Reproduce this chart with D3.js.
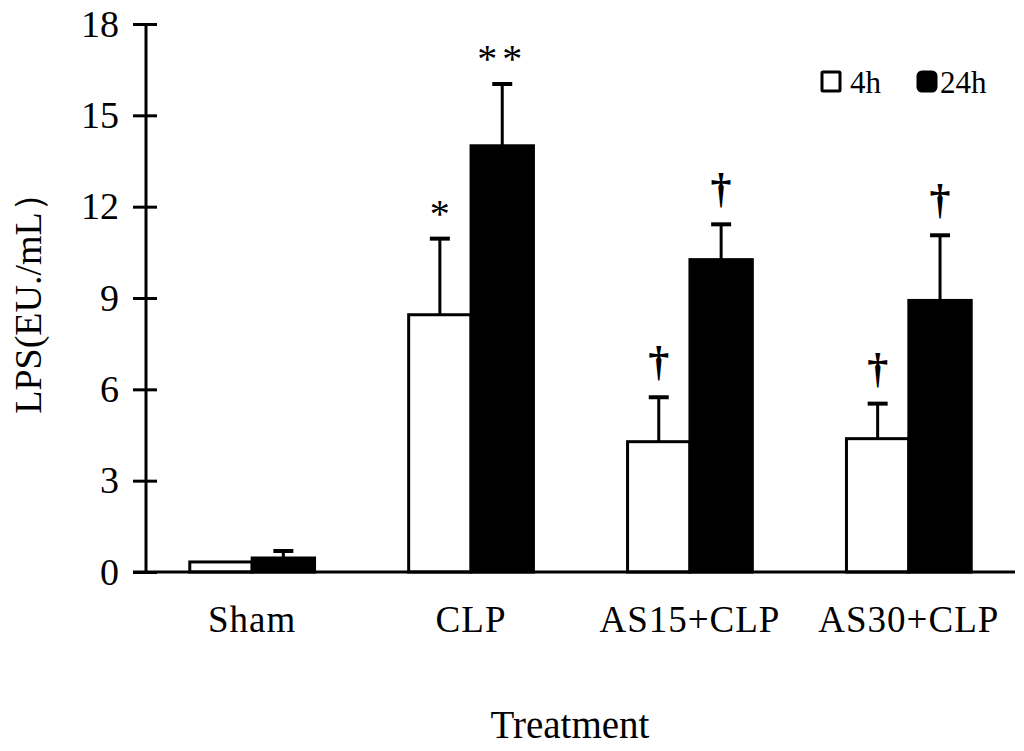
<!DOCTYPE html>
<html>
<head>
<meta charset="utf-8">
<script src="https://cdn.jsdelivr.net/npm/d3@7"></script>
<style>
  body { margin: 0; background: #fff; }
  text { font-family: "Liberation Serif", "Times New Roman", serif; fill: #000; }
</style>
</head>
<body>
<div id="chart"></div>
<script>
// 데이터
const groups = ['Sham', 'CLP', 'AS15+CLP', 'AS30+CLP'];
const series = ['4h', '24h'];
const mean4h = [0.33, 8.45, 4.28, 4.38];
const mean24h = [0.46, 14.0, 10.26, 8.92];
const err4h = [0, 2.5, 1.46, 1.15];
const err24h = [0.23, 2.03, 1.16, 2.14];
const marks4h = ['', '*', '†', '†'];
const marks24h = ['', '**', '†', '†'];
const yTicks = [0, 3, 6, 9, 12, 15, 18];

const width = 1024, height = 751;
const margin = { top: 24, right: 9, bottom: 179, left: 146 };

const svg = d3.select('#chart')
    .append('svg')
    .attr('width', width)
    .attr('height', height);

const x0 = d3.scaleBand()
    .domain(groups)
    .range([margin.left, width - margin.right])
    .paddingInner(0.43)
    .paddingOuter(0.2);

const x1 = d3.scaleBand()
    .domain(series)
    .range([0, x0.bandwidth()]);

const y = d3.scaleLinear()
    .domain([0, 18])
    .range([height - margin.bottom, margin.top]);

const rows = groups.map((g, i) => ({
    group: g,
    items: [
        { key: '4h', v: mean4h[i], e: err4h[i], m: marks4h[i] },
        { key: '24h', v: mean24h[i], e: err24h[i], m: marks24h[i] }
    ]
}));

const g = svg.selectAll('g.group')
    .data(rows)
    .join('g')
    .attr('class', 'group')
    .attr('transform', d => `translate(${x0(d.group)},0)`);

// 오차 막대 (막대 뒤)
g.selectAll('g.err')
    .data(d => d.items.filter(it => it.e > 0))
    .join('g')
    .attr('class', 'err')
    .each(function (d) {
        const cx = x1(d.key) + x1.bandwidth() / 2;
        const sel = d3.select(this);
        sel.append('line')
            .attr('x1', cx).attr('x2', cx)
            .attr('y1', y(d.v)).attr('y2', y(d.v + d.e))
            .attr('stroke', '#000').attr('stroke-width', 3);
        sel.append('line')
            .attr('x1', cx - 10).attr('x2', cx + 10)
            .attr('y1', y(d.v + d.e)).attr('y2', y(d.v + d.e))
            .attr('stroke', '#000').attr('stroke-width', 4);
    });

g.selectAll('rect')
    .data(d => d.items)
    .join('rect')
    .attr('x', d => x1(d.key))
    .attr('y', d => y(d.v))
    .attr('width', x1.bandwidth())
    .attr('height', d => y(0) - y(d.v))
    .attr('fill', d => d.key === '4h' ? '#fff' : '#000')
    .attr('stroke', '#000')
    .attr('stroke-width', 3);

// 유의성 표시
g.selectAll('text.mark')
    .data(d => d.items.filter(it => it.m))
    .join('text')
    .attr('class', 'mark')
    .attr('x', d => x1(d.key) + x1.bandwidth() / 2)
    .attr('y', d => y(d.v + d.e) - (d.m === '†' ? 22 : 12))
    .attr('text-anchor', 'middle')
    .attr('font-size', d => d.m === '†' ? 42 : 40)
    .attr('font-weight', d => d.m === '†' ? 'bold' : 'normal')
    .attr('letter-spacing', d => d.m === '**' ? 5 : 0)
    .text(d => d.m);

// 축
const yAxis = svg.append('g')
    .attr('transform', `translate(${margin.left},0)`)
    .call(d3.axisLeft(y).tickValues(yTicks).tickSize(13).tickPadding(14));
yAxis.select('.domain').remove();
yAxis.append('line')
    .attr('x1', 0).attr('x2', 0)
    .attr('y1', y(18)).attr('y2', y(0))
    .attr('stroke', '#000').attr('stroke-width', 3);
yAxis.selectAll('.tick line')
    .attr('x2', 11).attr('x1', -13)
    .attr('stroke', '#000').attr('stroke-width', 3);
yAxis.selectAll('.tick text')
    .attr('font-size', 38)
    .attr('font-family', '"Liberation Serif", serif')
    .attr('fill', '#000');

svg.append('line')
    .attr('x1', margin.left - 13).attr('x2', width - margin.right)
    .attr('y1', y(0)).attr('y2', y(0))
    .attr('stroke', '#000').attr('stroke-width', 3);

svg.selectAll('text.cat')
    .data(groups)
    .join('text')
    .attr('class', 'cat')
    .attr('x', d => x0(d) + x0.bandwidth() / 2)
    .attr('y', y(0) + 60)
    .attr('text-anchor', 'middle')
    .attr('font-size', 37)
    .attr('letter-spacing', 1)
    .text(d => d);

svg.append('text')
    .attr('x', 570)
    .attr('y', 738)
    .attr('text-anchor', 'middle')
    .attr('font-size', 39)
    .text('Treatment');

svg.append('text')
    .attr('transform', `translate(41,${(y(0) + y(18)) / 2 - 4}) rotate(-90)`)
    .attr('text-anchor', 'middle')
    .attr('font-size', 38)
    .text('LPS(EU./mL）');

// 범례
const legend = svg.append('g').attr('transform', 'translate(822,72)');
const legendItems = legend.selectAll('g')
    .data(series)
    .join('g')
    .attr('transform', (d, i) => `translate(${i * 96},0)`);
legendItems.append('rect')
    .attr('width', 18).attr('height', 19)
    .attr('rx', d => d === '4h' ? 1 : 4)
    .attr('fill', d => d === '4h' ? '#fff' : '#000')
    .attr('stroke', '#000').attr('stroke-width', 3);
legendItems.append('text')
    .attr('x', d => d === '4h' ? 28 : 22)
    .attr('y', 21)
    .attr('font-size', 31)
    .text(d => d);
</script>
</body>
</html>
